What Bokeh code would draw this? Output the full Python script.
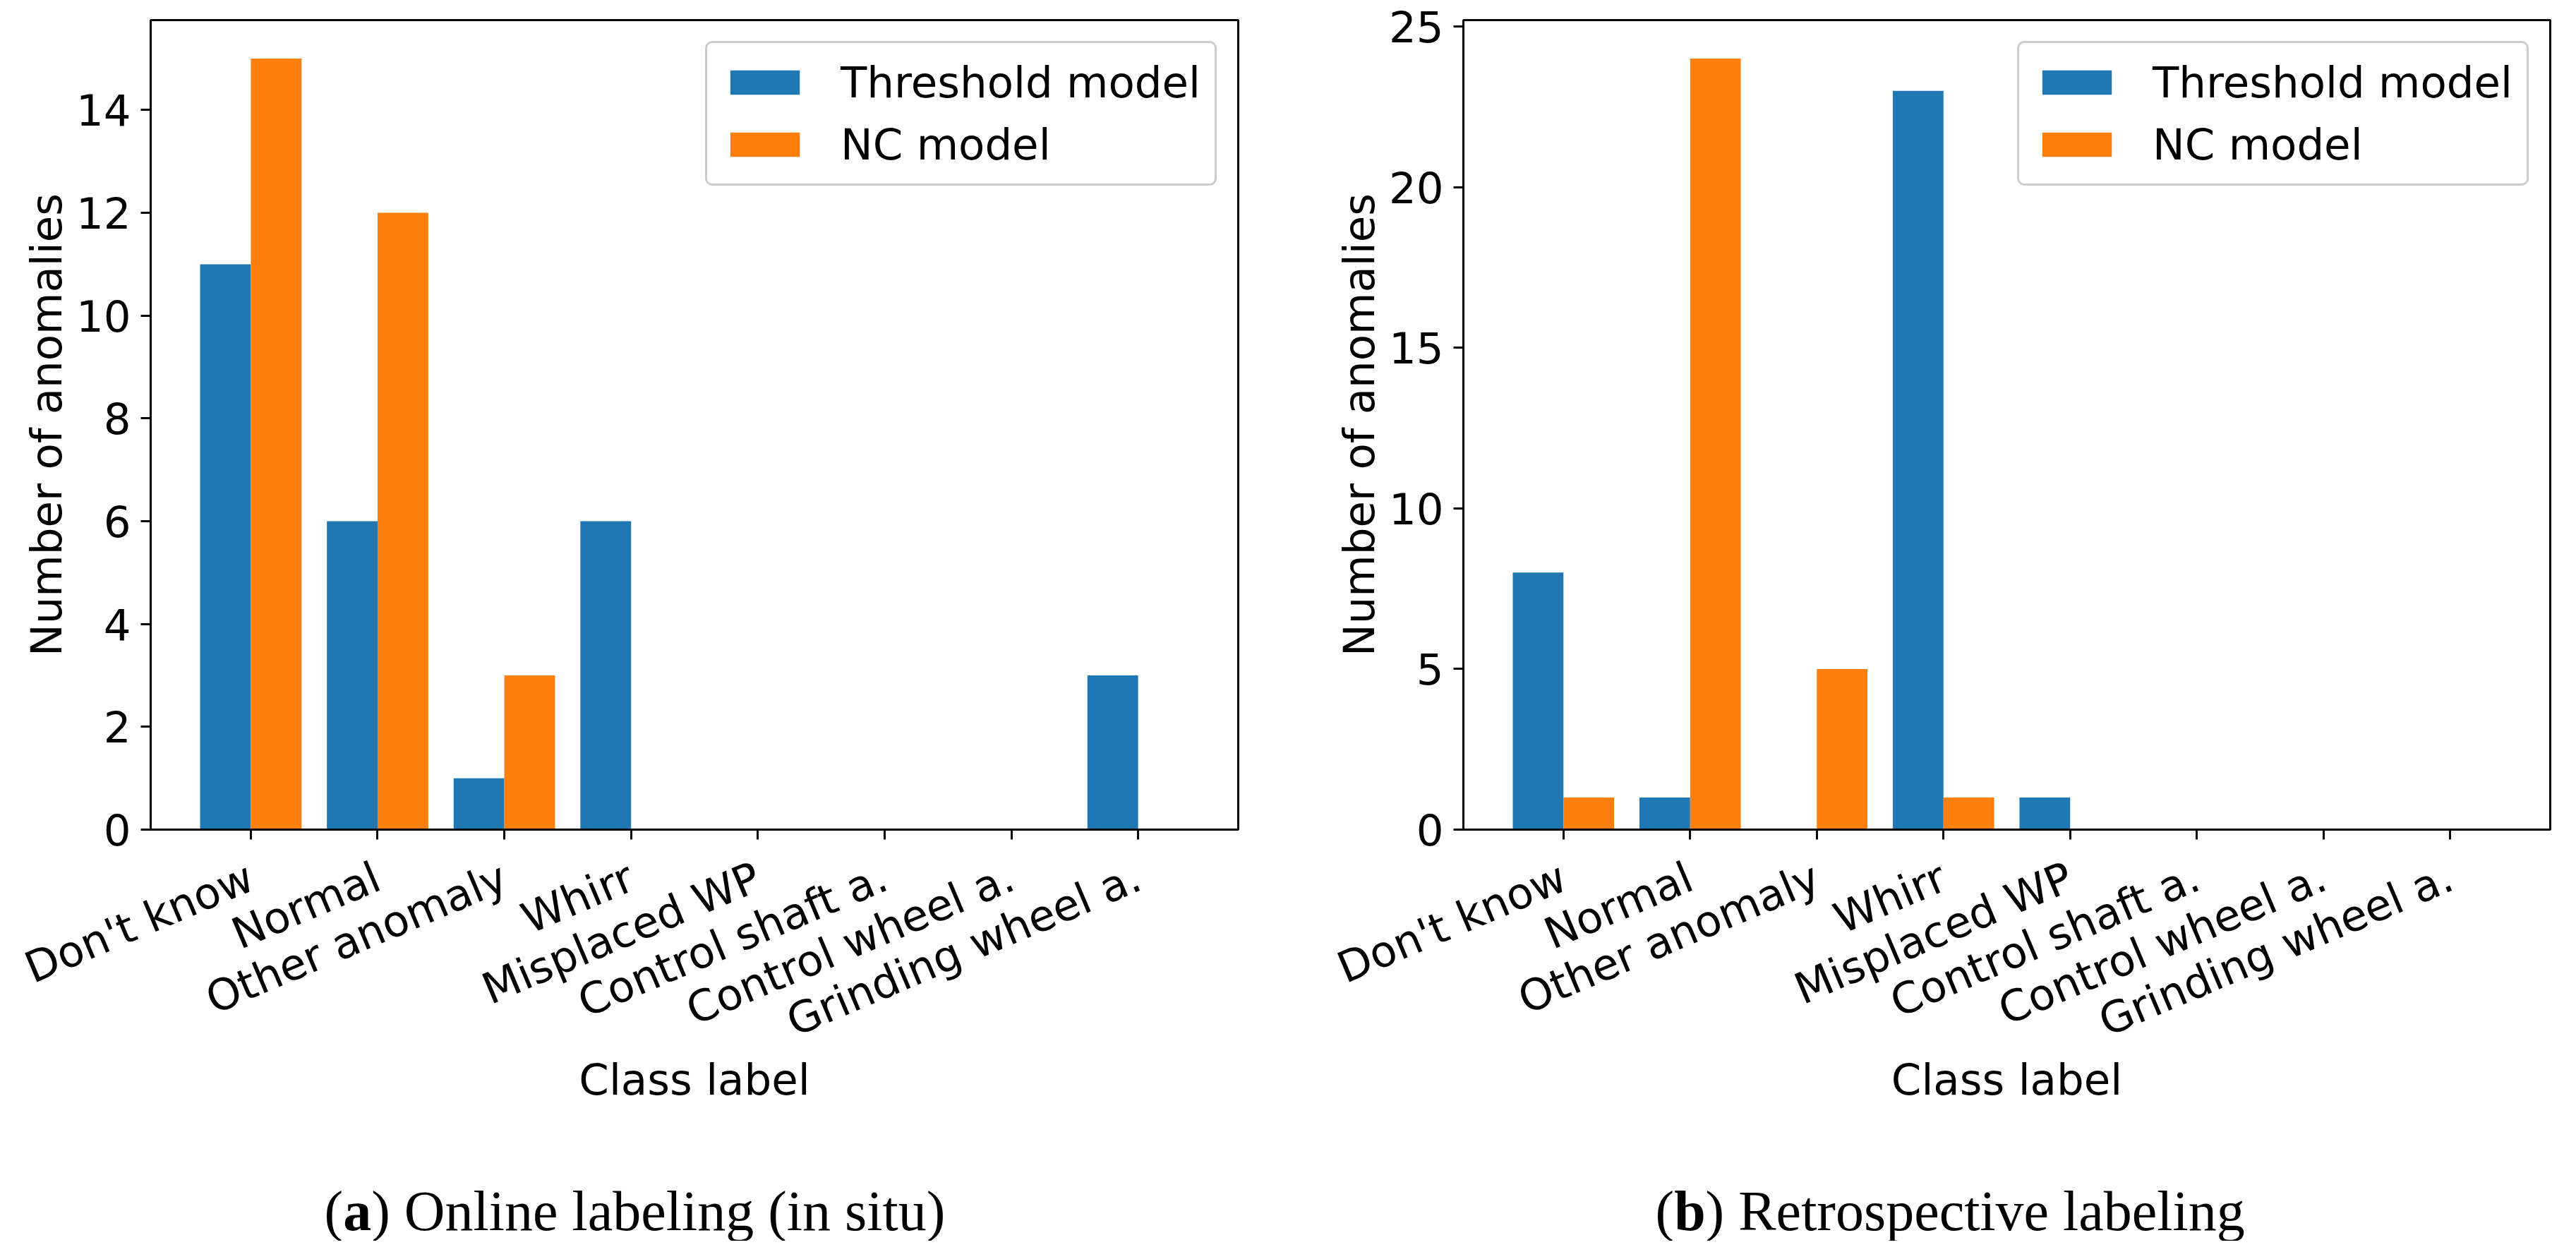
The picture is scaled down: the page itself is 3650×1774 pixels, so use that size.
import math
from bokeh.plotting import figure
from bokeh.layouts import column, row
from bokeh.models import FactorRange, Range1d, FixedTicker, ColumnDataSource
from bokeh.transform import dodge
from bokeh.core.properties import value
from bokeh.embed import file_html
from bokeh.resources import INLINE

# ---------------- data ----------------
categories = ["Don't know", "Normal", "Other anomaly", "Whirr", "Misplaced WP",
              "Control shaft a.", "Control wheel a.", "Grinding wheel a."]
series_names = ["Threshold model", "NC model"]

online_threshold = [11, 6, 1, 6, 0, 0, 0, 3]
online_nc = [15, 12, 3, 0, 0, 0, 0, 0]

retro_threshold = [8, 1, 0, 23, 1, 0, 0, 0]
retro_nc = [1, 24, 5, 1, 0, 0, 0, 0]

online_yticks = [0, 2, 4, 6, 8, 10, 12, 14]
retro_yticks = [0, 5, 10, 15, 20, 25]

x_label = "Class label"
y_label = "Number of anomalies"

caption_a = ["(", "a", ") Online labeling (in situ)"]
caption_b = ["(", "b", ") Retrospective labeling"]

BLUE = "#1f77b4"
ORANGE = "#ff7f0e"
SANS = "DejaVu Sans"
SERIF = "Liberation Serif"
FS = "61px"
FIG_H = 1600


def make_panel(thr, nc, yticks, ymax, width, border_left, border_right):
    src = ColumnDataSource(dict(cat=categories, thr=thr, nc=nc))
    p = figure(x_range=FactorRange(factors=categories, range_padding=0.0725,
                                   range_padding_units="percent"),
               y_range=Range1d(0, ymax),
               width=width, height=FIG_H, output_backend="svg",
               toolbar_location=None, tools="")
    p.min_border_left = border_left
    p.min_border_right = border_right
    p.min_border_top = 28
    p.min_border_bottom = FIG_H - 28 - 1147
    p.background_fill_color = "white"
    p.border_fill_color = "white"
    p.outline_line_color = "black"
    p.outline_line_width = 3
    p.outline_line_alpha = 1.0
    p.xgrid.visible = False
    p.ygrid.visible = False

    p.vbar(x=dodge("cat", -0.2, range=p.x_range), top="thr", width=0.4,
           source=src, fill_color=BLUE, line_color=None, legend_label=series_names[0])
    p.vbar(x=dodge("cat", 0.2, range=p.x_range), top="nc", width=0.4,
           source=src, fill_color=ORANGE, line_color=None, legend_label=series_names[1])

    p.yaxis.ticker = FixedTicker(ticks=yticks)
    for ax in (p.xaxis[0], p.yaxis[0]):
        ax.axis_line_color = "black"
        ax.axis_line_width = 3
        ax.major_tick_line_color = "black"
        ax.major_tick_line_width = 3
        ax.major_tick_out = 14
        ax.major_tick_in = 0
        ax.minor_tick_line_color = None
        ax.major_label_text_font = SANS
        ax.major_label_text_font_size = FS
        ax.major_label_text_color = "black"
        ax.axis_label_text_font = SANS
        ax.axis_label_text_font_size = FS
        ax.axis_label_text_font_style = "normal"
        ax.axis_label_text_color = "black"
    p.xaxis.major_label_orientation = math.radians(23)
    p.xaxis.major_label_standoff = 50
    p.xaxis.axis_label = x_label
    p.xaxis.axis_label_standoff = -24
    p.yaxis.major_label_standoff = 14
    p.yaxis.axis_label = y_label
    p.yaxis.axis_label_standoff = 4

    lg = p.legend[0]
    lg.location = "top_right"
    lg.margin = 30
    lg.label_text_font = SANS
    lg.label_text_font_size = FS
    lg.label_text_color = "black"
    lg.glyph_width = 123
    lg.glyph_height = 43
    lg.label_standoff = 46
    lg.padding = 20
    lg.spacing = 17
    lg.border_line_color = "#cccccc"
    lg.border_line_width = 3
    lg.border_line_alpha = 1.0
    lg.background_fill_color = "white"
    lg.background_fill_alpha = 0.8
    if "border_radius" in lg.properties():
        lg.border_radius = 10
    return p


p1 = make_panel(online_threshold, online_nc, online_yticks, 15.75, 1830, 213, 76)
p2 = make_panel(retro_threshold, retro_nc, retro_yticks, 25.2, 1802, 243, 19)

# caption strip
CAP_H = 1766 - 8 - FIG_H
cap = figure(width=3642, height=CAP_H, x_range=Range1d(0, 3642), y_range=Range1d(0, CAP_H),
             output_backend="svg", toolbar_location=None, tools="",
             x_axis_location=None, y_axis_location=None, min_border=0)
cap.outline_line_color = None
cap.xgrid.visible = False
cap.ygrid.visible = False
cap.background_fill_color = "white"
cap.border_fill_color = "white"

fs_cap = 80
base_y = CAP_H - (1723 - 8 - FIG_H)
for caption, x0 in ((caption_a, 459), (caption_b, 2345)):
    w_open = 0.333 * fs_cap
    w_bold = (0.5 if caption[1] == "a" else 0.556) * fs_cap
    cap.text(x=[x0], y=[base_y], text=[caption[0]], text_font=value(SERIF),
             text_font_size=f"{fs_cap}px", text_baseline="alphabetic", text_align="left",
             text_color="black")
    cap.text(x=[x0 + w_open], y=[base_y], text=[caption[1]], text_font=value(SERIF),
             text_font_size=f"{fs_cap}px", text_font_style="bold",
             text_baseline="alphabetic", text_align="left", text_color="black")
    cap.text(x=[x0 + w_open + w_bold], y=[base_y], text=[caption[2]], text_font=value(SERIF),
             text_font_size=f"{fs_cap}px", text_baseline="alphabetic", text_align="left",
             text_color="black")

layout = column(row(p1, p2), cap)
open("out.html", "w").write(file_html(layout, INLINE))
